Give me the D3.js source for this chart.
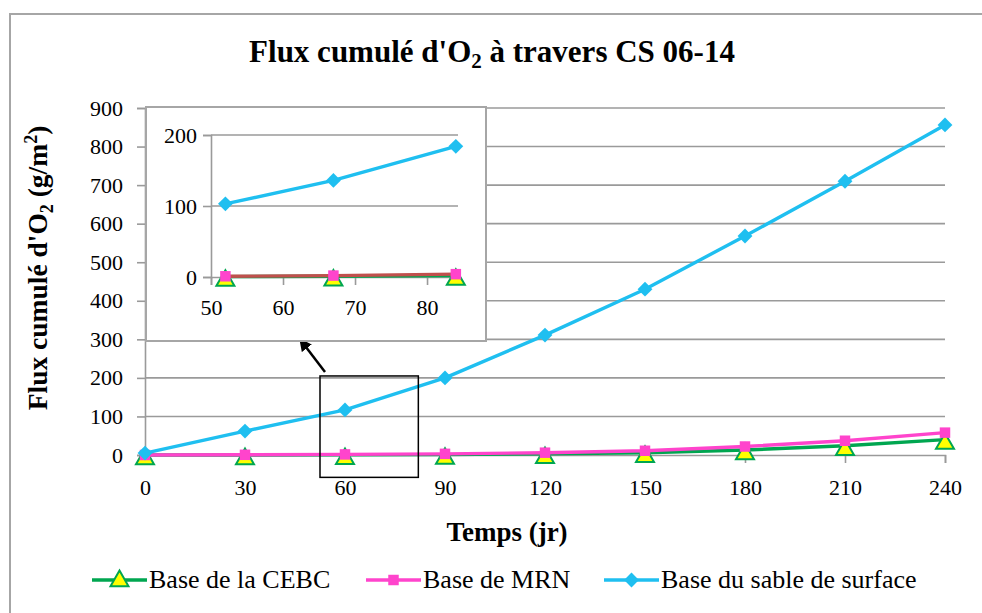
<!DOCTYPE html>
<html><head><meta charset="utf-8">
<script src="https://cdn.jsdelivr.net/npm/d3@7"></script>
<style>body{margin:0;background:#fff} svg{display:block}</style>
</head><body>
<svg id="chart" width="982" height="613"></svg>
<script>
// Cumulative O2 flux (g/m2) versus time (days)
const days   = [0, 30, 60, 90, 120, 150, 180, 210, 240];
const cebc   = [0, 0, 0.5, 1, 3, 6, 13, 24, 40];
const mrn    = [0, 0.5, 1.5, 3, 6, 11, 22, 37, 58];
const sable  = [5, 62, 117, 200, 311, 430, 568, 710, 856];
const xTicks = [0, 30, 60, 90, 120, 150, 180, 210, 240];
const yTicks = [0, 100, 200, 300, 400, 500, 600, 700, 800, 900];

// Enlarged view, days 50-85
const insetDays   = [52, 67, 84];
const insetCebc   = [0.5, 1, 2];
const insetMrn    = [1, 2, 4];
const insetSable  = [103, 136, 184];
const insetXTicks = [50, 60, 70, 80];
const insetYTicks = [0, 100, 200];

const seriesNames = ["Base de la CEBC", "Base de MRN", "Base du sable de surface"];

// Region of the main chart shown in the inset (data units) and the pointer arrow
const zoomRegion = {x0: 52.5, x1: 82, y0: -58, y1: 205};
const pointer = {from: [54, 215], to: [46.5, 300]};

const C_GREEN = "#00a650", C_PINK = "#ff44cc", C_BLUE = "#1fbff0", C_RED = "#c0504d";
const GRID = "#9a9a9a";
const SERIF = "'Liberation Serif','Times New Roman',serif";

const svg = d3.select("#chart");
const defs = svg.append("defs");
defs.append("marker").attr("id", "arrowHead").attr("viewBox", "0 0 10 10")
  .attr("refX", 9).attr("refY", 5).attr("markerWidth", 5).attr("markerHeight", 5)
  .attr("orient", "auto")
  .append("path").attr("d", "M0,0 L10,5 L0,10 z").attr("fill", "#000");

// outer frame
svg.append("rect").attr("x", 10).attr("y", 14).attr("width", 990).attr("height", 620)
  .attr("fill", "#fff").attr("stroke", "#a6a6a6").attr("stroke-width", 2);

const x = d3.scaleLinear().domain([0, 240]).range([145, 945]);
const y = d3.scaleLinear().domain([0, 900]).range([455, 108]);

// title
const title = svg.append("text").attr("x", 492).attr("y", 62).attr("text-anchor", "middle")
  .attr("font-family", SERIF).attr("font-weight", "bold").attr("font-size", 31).attr("fill", "#000");
title.append("tspan").text("Flux cumulé d'O");
title.append("tspan").attr("font-size", 21).attr("dy", 6).text("2");
title.append("tspan").attr("dy", -6).text(" à travers CS 06-14");

// gridlines
svg.append("g").selectAll("line").data(yTicks.filter(d => d > 0)).join("line")
  .attr("x1", x(0)).attr("x2", x(240)).attr("y1", d => y(d)).attr("y2", d => y(d))
  .attr("stroke", GRID).attr("stroke-width", 1.6);

function styleAxis(a) {
  a.select(".domain").attr("stroke", GRID).attr("stroke-width", 1.6);
  a.selectAll(".tick line").attr("stroke", GRID).attr("stroke-width", 1.6);
  a.selectAll("text").attr("font-family", SERIF).attr("font-size", 22).attr("fill", "#000");
}

// axes
const yAxis = svg.append("g").attr("transform", `translate(${x(0)},0)`)
  .call(d3.axisLeft(y).tickValues(yTicks).tickSize(8).tickPadding(14));
const xAxis = svg.append("g").attr("transform", `translate(0,${y(0)})`)
  .call(d3.axisBottom(x).tickValues(xTicks).tickSize(8).tickPadding(16));
[xAxis, yAxis].forEach(styleAxis);

// axis titles
svg.append("text").attr("x", 507).attr("y", 541).attr("text-anchor", "middle")
  .attr("font-family", SERIF).attr("font-weight", "bold").attr("font-size", 27).text("Temps (jr)");
const yTitle = svg.append("text").attr("transform", "translate(47,268) rotate(-90)")
  .attr("text-anchor", "middle").attr("font-family", SERIF).attr("font-weight", "bold").attr("font-size", 27.5);
yTitle.append("tspan").text("Flux cumulé d'O");
yTitle.append("tspan").attr("font-size", 18).attr("dy", 6).text("2");
yTitle.append("tspan").attr("dy", -6).text(" (g/m");
yTitle.append("tspan").attr("font-size", 18).attr("dy", -10).text("2");
yTitle.append("tspan").attr("dy", 10).text(")");

// series drawing helpers
const triangle = d3.symbol().type(d3.symbolTriangle).size(140)();
const square = d3.symbol().type(d3.symbolSquare).size(110)();
const diamond = d3.symbol().type(d3.symbolDiamond2).size(140)();

function drawSeries(g, xs, ys, sx, sy, color, kind, lineColor) {
  const pts = xs.map((d, i) => [d, ys[i]]);
  g.append("path").datum(pts)
    .attr("d", d3.line().x(d => sx(d[0])).y(d => sy(d[1])))
    .attr("fill", "none").attr("stroke", lineColor || color).attr("stroke-width", 3.4)
    .attr("stroke-linejoin", "round");
  const m = g.append("g").selectAll("path").data(pts).join("path");
  if (kind === "triangle") {
    m.attr("d", triangle).attr("transform", d => `translate(${sx(d[0])},${sy(d[1]) + 4})`)
      .attr("fill", "#ffff00").attr("stroke", C_GREEN).attr("stroke-width", 2);
  } else if (kind === "square") {
    m.attr("d", square).attr("transform", d => `translate(${sx(d[0])},${sy(d[1])})`)
      .attr("fill", C_PINK);
  } else {
    m.attr("d", diamond).attr("transform", d => `translate(${sx(d[0])},${sy(d[1])})`)
      .attr("fill", C_BLUE);
  }
}

const plot = svg.append("g");
drawSeries(plot, days, cebc, x, y, C_GREEN, "triangle");
drawSeries(plot, days, mrn, x, y, C_PINK, "square");
drawSeries(plot, days, sable, x, y, C_BLUE, "diamond");

// region box and pointer arrow
svg.append("rect")
  .attr("x", x(zoomRegion.x0)).attr("y", y(zoomRegion.y1))
  .attr("width", x(zoomRegion.x1) - x(zoomRegion.x0)).attr("height", y(zoomRegion.y0) - y(zoomRegion.y1))
  .attr("fill", "none").attr("stroke", "#000").attr("stroke-width", 1.5);
svg.append("line")
  .attr("x1", x(pointer.from[0])).attr("y1", y(pointer.from[1]))
  .attr("x2", x(pointer.to[0])).attr("y2", y(pointer.to[1]))
  .attr("stroke", "#000").attr("stroke-width", 2.5).attr("marker-end", "url(#arrowHead)");

// inset chart
const inset = svg.append("g");
inset.append("rect").attr("x", 146).attr("y", 107).attr("width", 340).attr("height", 234)
  .attr("fill", "#fff").attr("stroke", "#a6a6a6").attr("stroke-width", 2);
const ix = d3.scaleLinear().domain([50, 84.3]).range([211, 458]);
const iy = d3.scaleLinear().domain([0, 200]).range([277, 135]);

inset.append("g").selectAll("line").data(insetYTicks.filter(d => d > 0)).join("line")
  .attr("x1", ix(50)).attr("x2", ix(84.3)).attr("y1", d => iy(d)).attr("y2", d => iy(d))
  .attr("stroke", GRID).attr("stroke-width", 1.6);
const iyAxis = inset.append("g").attr("transform", `translate(${ix(50)},0)`)
  .call(d3.axisLeft(iy).tickValues(insetYTicks).tickSize(8).tickPadding(6));
const ixAxis = inset.append("g").attr("transform", `translate(0,${iy(0)})`)
  .call(d3.axisBottom(ix).tickValues(insetXTicks).tickSize(8).tickPadding(14));
[ixAxis, iyAxis].forEach(styleAxis);
drawSeries(inset, insetDays, insetCebc, ix, iy, C_GREEN, "triangle");
drawSeries(inset, insetDays, insetMrn, ix, iy, C_PINK, "square", C_RED);
drawSeries(inset, insetDays, insetSable, ix, iy, C_BLUE, "diamond");

// legend
const legendItems = [
  {name: seriesNames[0], color: C_GREEN, kind: "triangle", x0: 92},
  {name: seriesNames[1], color: C_PINK, kind: "square", x0: 366},
  {name: seriesNames[2], color: C_BLUE, kind: "diamond", x0: 604}
];
const lg = svg.append("g").selectAll("g").data(legendItems).join("g")
  .attr("transform", d => `translate(${d.x0},580)`);
lg.append("line").attr("x1", 0).attr("x2", 55).attr("stroke", d => d.color).attr("stroke-width", 3.4);
lg.append("path")
  .attr("d", d => d.kind === "triangle" ? triangle : d.kind === "square" ? square : diamond)
  .attr("transform", d => `translate(27.5,${d.kind === "triangle" ? 1 : 0})`)
  .attr("fill", d => d.kind === "triangle" ? "#ffff00" : d.color)
  .attr("stroke", d => d.kind === "triangle" ? C_GREEN : "none").attr("stroke-width", 2);
lg.append("text").attr("x", 57).attr("y", 8).attr("font-family", SERIF).attr("font-size", 26)
  .text(d => d.name);
</script>
</body></html>
